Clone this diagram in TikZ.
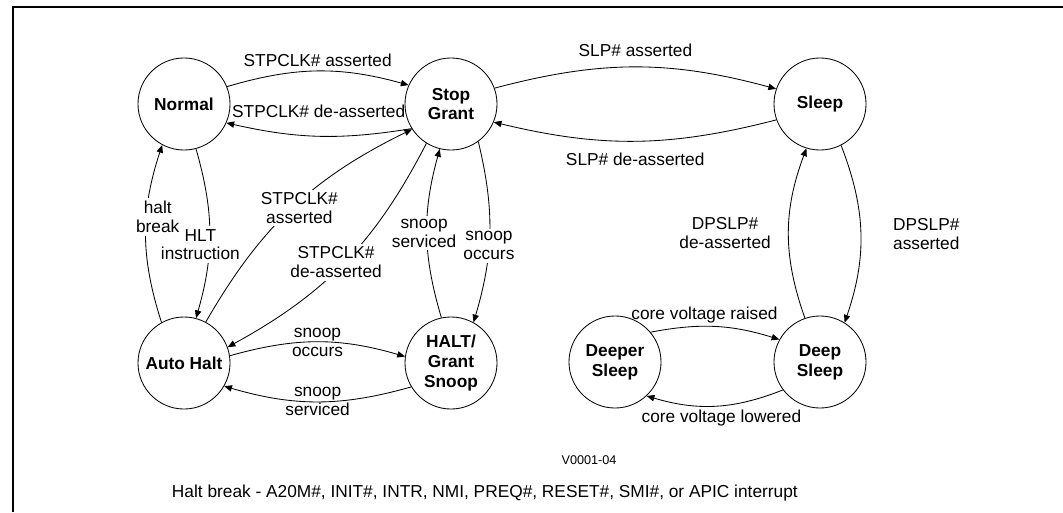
\documentclass[tikz,border=0pt]{standalone}
\usepackage{fontspec}
\setmainfont{Liberation Sans}
\usetikzlibrary{arrows.meta}

\begin{document}
\begin{tikzpicture}[
  x = 0.025cm, y = -0.025cm,
  every node/.style = {font = \fontsize{12.3}{13.5}\selectfont},
  state/.style = {draw, circle, minimum size = 2.3cm, inner sep = 0pt, align = center,
                  line width = 0.6pt, font = \fontsize{12.3}{14}\selectfont\bfseries},
  trans/.style = {-{Triangle[length = 5.5pt, width = 4.5pt]}, line width = 0.6pt},
  lbl/.style = {align = center, inner sep = 1pt},
  mask/.style = {lbl, fill = white, inner sep = 2pt}
  ]
  \useasboundingbox (0,0) rectangle (1063,512);
  \draw[line width = 1.4pt] (13,512) -- (13,7) -- (1063,7);

  % states
  \node[state] (normal)   at (184,104) {Normal};
  \node[state] (stop)     at (451,104) {Stop\\Grant};
  \node[state] (sleep)    at (820,104) {Sleep};
  \node[state] (autohalt) at (184,363) {Auto Halt};
  \node[state] (snoop)    at (451,363) {HALT/\\Grant\\Snoop};
  \node[state] (deeper)   at (615,362) {Deeper\\Sleep};
  \node[state] (deep)     at (820,362) {Deep\\Sleep};

  % transitions
  \draw[trans] (normal.22) to[bend left = 16] node[lbl, above = 1.9pt] {STPCLK\# asserted} (stop.156);
  \draw[trans] (stop.212) to[bend left = 11] node[lbl, above = 12pt] {STPCLK\# de-asserted} (normal.336);
  \draw[trans] (stop.20) to[bend left = 15] node[lbl, above = 6pt] {SLP\# asserted} (sleep.161);
  \draw[trans] (sleep.200) to[bend left = 14] node[lbl, below = 7pt] {SLP\# de-asserted} (stop.337);
  \draw[trans] (normal.285) to[bend left = 16] node[mask, pos = 0.57, xshift = -6.4pt] {HLT\\instruction} (autohalt.75);
  \draw[trans] (autohalt.119) to[bend left = 18] node[mask, pos = 0.6, xshift = 8pt] {halt\\break} (normal.242);
  \draw[trans] (autohalt.62) to[bend left = 17] node[mask, xshift = 5pt] {STPCLK\#\\asserted} (stop.213);
  \draw[trans] (stop.238) to[bend left = 17] node[mask, xshift = -6pt] {STPCLK\#\\de-asserted} (autohalt.20);
  \draw[trans] (snoop.102) to[bend left = 16] node[mask, xshift = -2pt] {snoop\\serviced} (stop.256);
  \draw[trans] (stop.306) to[bend left = 15] node[mask, pos = 0.58] {snoop\\occurs} (snoop.61);
  \draw[trans] (autohalt.9) to[bend left = 16] node[lbl] {snoop\\occurs} (snoop.172);
  \draw[trans] (snoop.211) to[bend left = 16] node[lbl] {snoop\\serviced} (autohalt.330);
  \draw[trans] (sleep.297) to[bend left = 20] node[lbl, right = 21.8pt] {DPSLP\#\\asserted} (deep.58);
  \draw[trans] (deep.109) to[bend left = 20] node[lbl, left = 11.4pt] {DPSLP\#\\de-asserted} (sleep.253);
  \draw[trans] (deeper.40) to[bend left = 14] node[lbl, above = 1.3pt, xshift = -7.8pt] {core voltage raised} (deep.151);
  \draw[trans] (deep.217) to[bend left = 19] node[lbl, below = 1.7pt, xshift = 4.3pt] {core voltage lowered} (deeper.313);

  % notes
  \node[font = \fontsize{9}{10}\selectfont] (code) at (589,460) {V0001-04};
  \node[anchor = west] (note) at (167,493) {Halt break - A20M\#, INIT\#, INTR, NMI, PREQ\#, RESET\#, SMI\#, or APIC interrupt};
\end{tikzpicture}
\end{document}
